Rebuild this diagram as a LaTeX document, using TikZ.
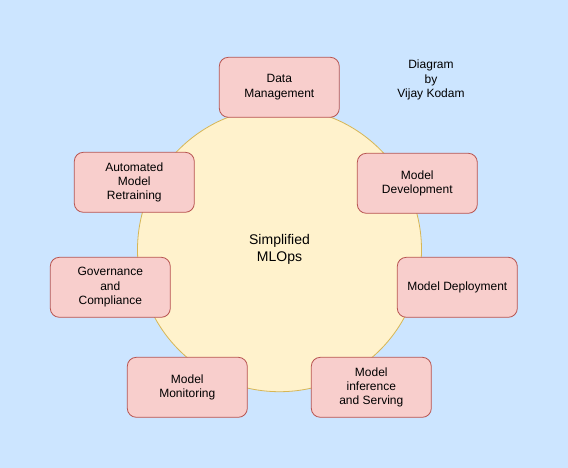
\documentclass[tikz,border=0pt]{standalone}
\usepackage{fontspec}
\setmainfont{Liberation Sans}
\definecolor{bgblue}{HTML}{CCE5FF}
\definecolor{circfill}{HTML}{FFF2CC}
\definecolor{circdraw}{HTML}{D6B656}
\definecolor{boxfill}{HTML}{F8CECC}
\definecolor{boxdraw}{HTML}{B85450}
\begin{document}
\begin{tikzpicture}[x=1pt,y=-1pt,
  stagebox/.style={draw=boxdraw,fill=boxfill,line width=0.8pt,rounded corners=9pt,
    minimum width=120pt,minimum height=60pt,inner sep=0pt,align=center,
    font=\fontsize{12}{14.4}\selectfont},
  hub/.style={circle,draw=circdraw,fill=circfill,line width=0.8pt,minimum size=284pt,
    inner sep=0pt,align=center,font=\fontsize{14}{17}\selectfont}]
\fill[bgblue] (0,0) rectangle (568,468);
\useasboundingbox (0,0) rectangle (568,468);
\node[hub] (core) at (279.5,249.7) {Simplified\\MLOps};
\node[stagebox] (data) at (279.3,87.3) {Data\\Management};
\node[stagebox] (dev) at (417.3,183.3) {Model\\Development};
\node[stagebox] (deploy) at (457.3,287.3) {Model Deployment};
\node[stagebox] (serve) at (371.3,387.3) {Model\\inference\\and Serving};
\node[stagebox] (mon) at (187.3,387.3) {Model\\Monitoring};
\node[stagebox] (gov) at (110.3,287.3) {Governance\\and\\Compliance};
\node[stagebox] (retrain) at (134.3,182.3) {Automated\\Model\\Retraining};
\node[align=center,font=\fontsize{12}{14.4}\selectfont] (credit) at (431,80) {Diagram\\by\\Vijay Kodam};
\end{tikzpicture}
\end{document}
